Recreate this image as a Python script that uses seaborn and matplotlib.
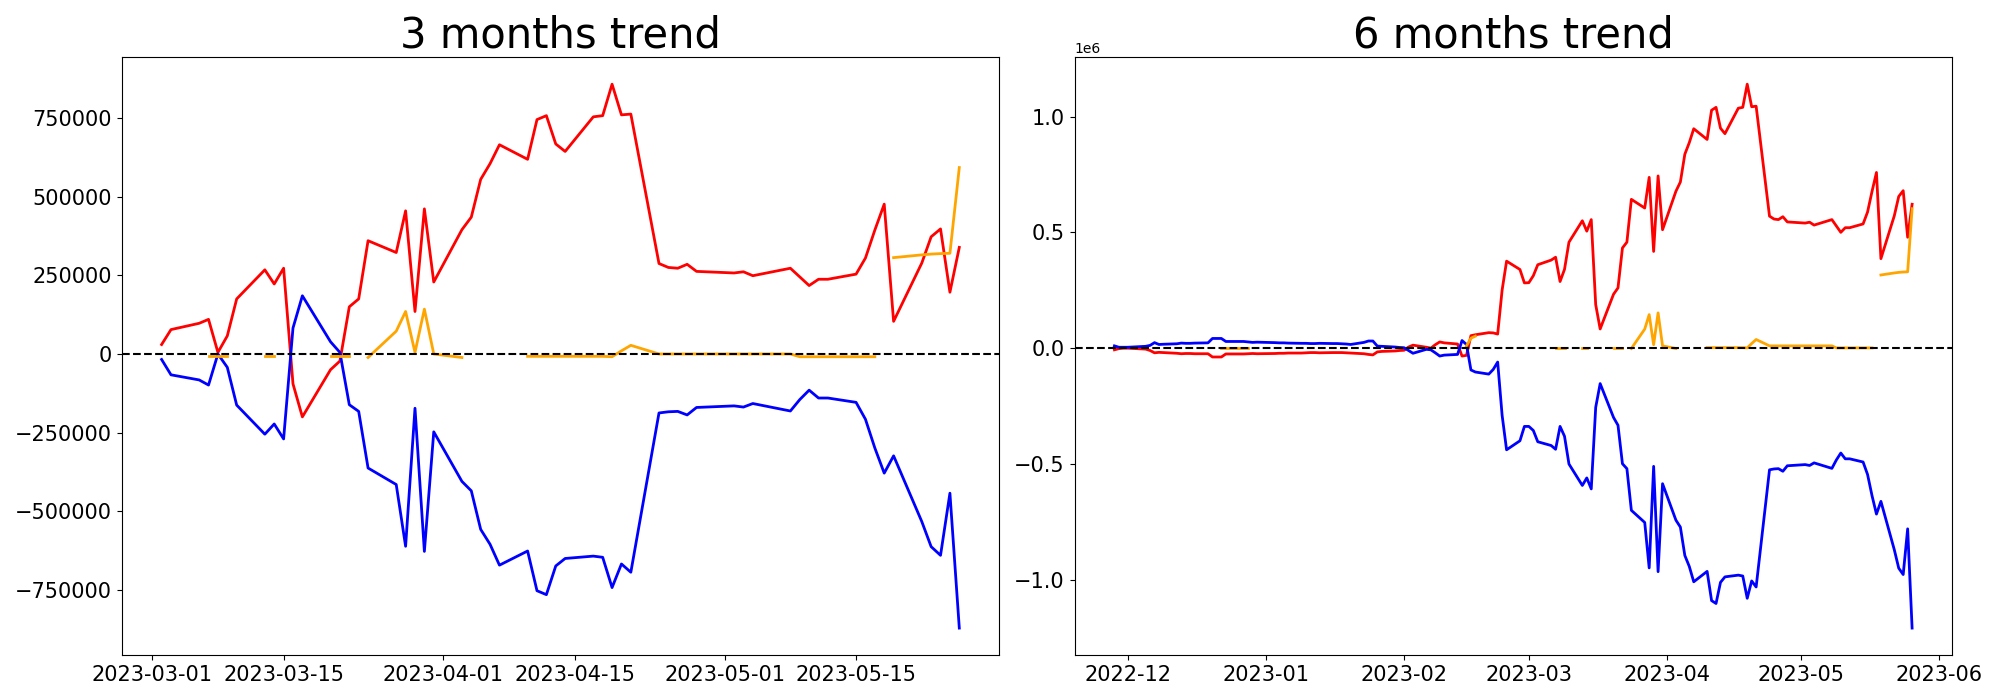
import numpy as np
import pandas as pd
import matplotlib
matplotlib.use("Agg")
import matplotlib.pyplot as plt
import seaborn as sns

nan = np.nan

# ---------------- 3 months trend ----------------
dates_3m = [
    "2023-03-02", "2023-03-03", "2023-03-06", "2023-03-07", "2023-03-08", "2023-03-09", "2023-03-10",
    "2023-03-13", "2023-03-14", "2023-03-15", "2023-03-16", "2023-03-17",
    "2023-03-20", "2023-03-21", "2023-03-22", "2023-03-23", "2023-03-24",
    "2023-03-27", "2023-03-28", "2023-03-29", "2023-03-30", "2023-03-31",
    "2023-04-03", "2023-04-04", "2023-04-05", "2023-04-06", "2023-04-07",
    "2023-04-10", "2023-04-11", "2023-04-12", "2023-04-13", "2023-04-14",
    "2023-04-17", "2023-04-18", "2023-04-19", "2023-04-20", "2023-04-21",
    "2023-04-24", "2023-04-25", "2023-04-26", "2023-04-27", "2023-04-28",
    "2023-05-02", "2023-05-03", "2023-05-04",
    "2023-05-08", "2023-05-09", "2023-05-10", "2023-05-11", "2023-05-12",
    "2023-05-15", "2023-05-16", "2023-05-17", "2023-05-18", "2023-05-19",
    "2023-05-22", "2023-05-23", "2023-05-24", "2023-05-25", "2023-05-26",
]
red_3m = [
    30000, 77500, 97500, 110000, 5000, 57500, 175000,
    267500, 222500, 272500, -95000, -200000,
    -50000, -22500, 150000, 175000, 360000,
    322500, 455000, 135000, 461250, 228750,
    395000, 435000, 555000, 605000, 665000,
    618750, 745000, 757500, 667500, 643750,
    753750, 757500, 857500, 760000, 762500,
    287500, 275000, 272500, 285000, 262500,
    257500, 261250, 248750,
    272500, 245000, 217500, 237500, 237500,
    253750, 305000, 393750, 476250, 103750,
    288750, 372500, 397500, 196250, 338750,
]
blue_3m = [
    -17500, -66250, -82500, -98750, 0, -42500, -162500,
    -255000, -222500, -270000, 82500, 185000,
    38750, 5000, -161250, -182500, -362500,
    -415000, -611250, -172500, -627500, -247500,
    -405000, -435000, -557500, -605000, -671250,
    -626250, -752500, -765000, -673750, -650000,
    -642500, -646250, -742500, -667500, -693750,
    -187500, -183750, -182500, -193750, -170000,
    -165000, -168750, -157500,
    -181250, -145000, -115000, -140000, -140000,
    -153750, -207500, -298750, -378750, -323750,
    -532500, -612500, -640000, -442500, -871250,
]
orange_3m = [
    nan, nan, nan, -7500, -7500, -7500, nan,
    -7500, -7500, nan, nan, nan,
    -7500, -7500, -7500, nan, -11250,
    72500, 135000, 5000, 142500, 0,
    -11250, nan, nan, nan, nan,
    -7500, -7500, -7500, -7500, -7500,
    -7500, -7500, -8750, 10000, 27500,
    0, 0, 0, 0, 0,
    0, 0, 0,
    0, -8750, -8750, -8750, -8750,
    -8750, -8750, -8750, nan, 306250,
    315000, 317500, 319000, 320000, 592500,
]

# ---------------- 6 months trend ----------------
dates_6m_head = [
    "2022-11-28", "2022-11-29", "2022-11-30", "2022-12-01", "2022-12-02",
    "2022-12-05", "2022-12-06", "2022-12-07", "2022-12-08", "2022-12-09",
    "2022-12-12", "2022-12-13", "2022-12-14", "2022-12-15", "2022-12-16",
    "2022-12-19", "2022-12-20", "2022-12-21", "2022-12-22", "2022-12-23",
    "2022-12-27", "2022-12-28", "2022-12-29", "2022-12-30",
    "2023-01-03", "2023-01-04", "2023-01-05", "2023-01-06",
    "2023-01-09", "2023-01-10", "2023-01-11", "2023-01-12", "2023-01-13",
    "2023-01-16", "2023-01-17", "2023-01-18", "2023-01-19", "2023-01-20",
    "2023-01-23", "2023-01-24", "2023-01-25", "2023-01-26", "2023-01-27",
    "2023-01-30", "2023-01-31", "2023-02-01", "2023-02-02", "2023-02-03",
    "2023-02-06", "2023-02-07", "2023-02-08", "2023-02-09", "2023-02-10",
    "2023-02-13", "2023-02-14", "2023-02-15", "2023-02-16", "2023-02-17",
    "2023-02-20", "2023-02-21", "2023-02-22", "2023-02-23", "2023-02-24",
    "2023-02-27", "2023-02-28", "2023-03-01",
]
dates_6m = dates_6m_head + dates_3m

red_6m = [
    -7000, -2000, 0, 0, -1000,
    -4000, -10000, -20000, -18000, -19000,
    -22000, -24000, -23000, -23000, -24000,
    -24000, -38000, -38000, -38000, -25000,
    -25000, -24000, -23000, -24000,
    -23000, -22000, -22000, -21000,
    -21000, -20000, -19000, -19000, -20000,
    -19000, -19000, -19000, -20000, -21000,
    -24000, -27000, -29000, -16000, -14000,
    -12000, -10000, -9000, 5000, 13000,
    4000, 0, 15000, 27000, 23000,
    18000, -34000, -31000, 54000, 58000,
    67000, 66000, 61000, 251000, 376000,
    340000, 282000, 283000,
    313000, 360500, 380500, 393000, 288000, 340500, 458000,
    550500, 505500, 555500, 188000, 83000,
    233000, 260500, 433000, 458000, 643000,
    605500, 738000, 418000, 744250, 511750,
    678000, 718000, 838000, 888000, 948000,
    901750, 1028000, 1040500, 950500, 926750,
    1036750, 1040500, 1140500, 1043000, 1045500,
    570500, 558000, 555500, 568000, 545500,
    540500, 544250, 531750,
    555500, 528000, 500500, 520500, 520500,
    536750, 588000, 676750, 759250, 386750,
    571750, 655500, 680500, 479250, 621750,
]
blue_6m = [
    10000, 4000, 4000, 4000, 5000,
    8000, 12000, 24000, 16000, 17000,
    19000, 22000, 21000, 21000, 22000,
    23000, 42000, 42000, 42000, 29000,
    29000, 27000, 25000, 26000,
    24000, 23000, 23000, 22000,
    21000, 21000, 20000, 20000, 21000,
    20000, 20000, 19000, 18000, 16000,
    25000, 31000, 31000, 9000, 8000,
    5000, 3000, 2000, -10000, -22000,
    -5000, -7000, -20000, -34000, -30000,
    -27000, 33000, 16000, -94000, -103000,
    -112000, -92000, -60000, -290000, -439000,
    -400000, -338000, -338000,
    -355500, -404250, -420500, -436750, -338000, -380500, -500500,
    -593000, -560500, -608000, -255500, -153000,
    -299250, -333000, -499250, -520500, -700500,
    -753000, -949250, -510500, -965500, -585500,
    -743000, -773000, -895500, -943000, -1009250,
    -964250, -1090500, -1103000, -1011750, -988000,
    -980500, -984250, -1080500, -1005500, -1031750,
    -525500, -521750, -520500, -531750, -508000,
    -503000, -506750, -495500,
    -519250, -483000, -453000, -478000, -478000,
    -491750, -545500, -636750, -716750, -661750,
    -870500, -950500, -978000, -780500, -1209250,
]
orange_6m = [
    nan, nan, nan, nan, nan,
    nan, nan, nan, nan, nan,
    nan, nan, nan, nan, nan,
    nan, nan, nan, 0, 0,
    0, 0, nan, nan,
    nan, nan, nan, nan,
    nan, nan, nan, nan, nan,
    nan, nan, nan, nan, nan,
    nan, nan, nan, nan, nan,
    nan, nan, nan, nan, nan,
    nan, nan, nan, nan, nan,
    nan, nan, 10000, 43000, 52000,
    nan, nan, nan, nan, nan,
    nan, nan, nan,
    nan, nan, nan, 2500, 2500, 2500, nan,
    2500, 2500, nan, nan, nan,
    2500, 2500, 2500, nan, -1250,
    82500, 145000, 15000, 152500, 10000,
    -1250, nan, nan, nan, nan,
    2500, 2500, 2500, 2500, 2500,
    2500, 2500, 1250, 20000, 37500,
    10000, 10000, 10000, 10000, 10000,
    10000, 10000, 10000,
    10000, 1250, 1250, 1250, 1250,
    1250, 1250, 1250, nan, 316250,
    325000, 327500, 329000, 330000, 602500,
]


def draw(ax, dates, red, blue, orange, title):
    df = pd.DataFrame({
        "date": pd.to_datetime(dates),
        "red": red,
        "blue": blue,
        "orange": orange,
    })
    sns.lineplot(data=df, x="date", y="red", color="red", linewidth=2, ax=ax)
    sns.lineplot(data=df, x="date", y="blue", color="blue", linewidth=2, ax=ax)
    od = df.assign(seg=df["orange"].isna().cumsum()).dropna(subset=["orange"])
    sns.lineplot(data=od, x="date", y="orange", units="seg", estimator=None,
                 color="orange", linewidth=2, ax=ax)
    ax.axhline(0, color="black", linestyle="--", linewidth=1.5)
    ax.set_title(title, fontsize=30)
    ax.tick_params(labelsize=15)
    ax.set_xlabel("")
    ax.set_ylabel("")


fig, axes = plt.subplots(1, 2, figsize=(20, 7))
draw(axes[0], dates_3m, red_3m, blue_3m, orange_3m, "3 months trend")
draw(axes[1], dates_6m, red_6m, blue_6m, orange_6m, "6 months trend")
plt.tight_layout()
fig.savefig("out.png", dpi=100)
